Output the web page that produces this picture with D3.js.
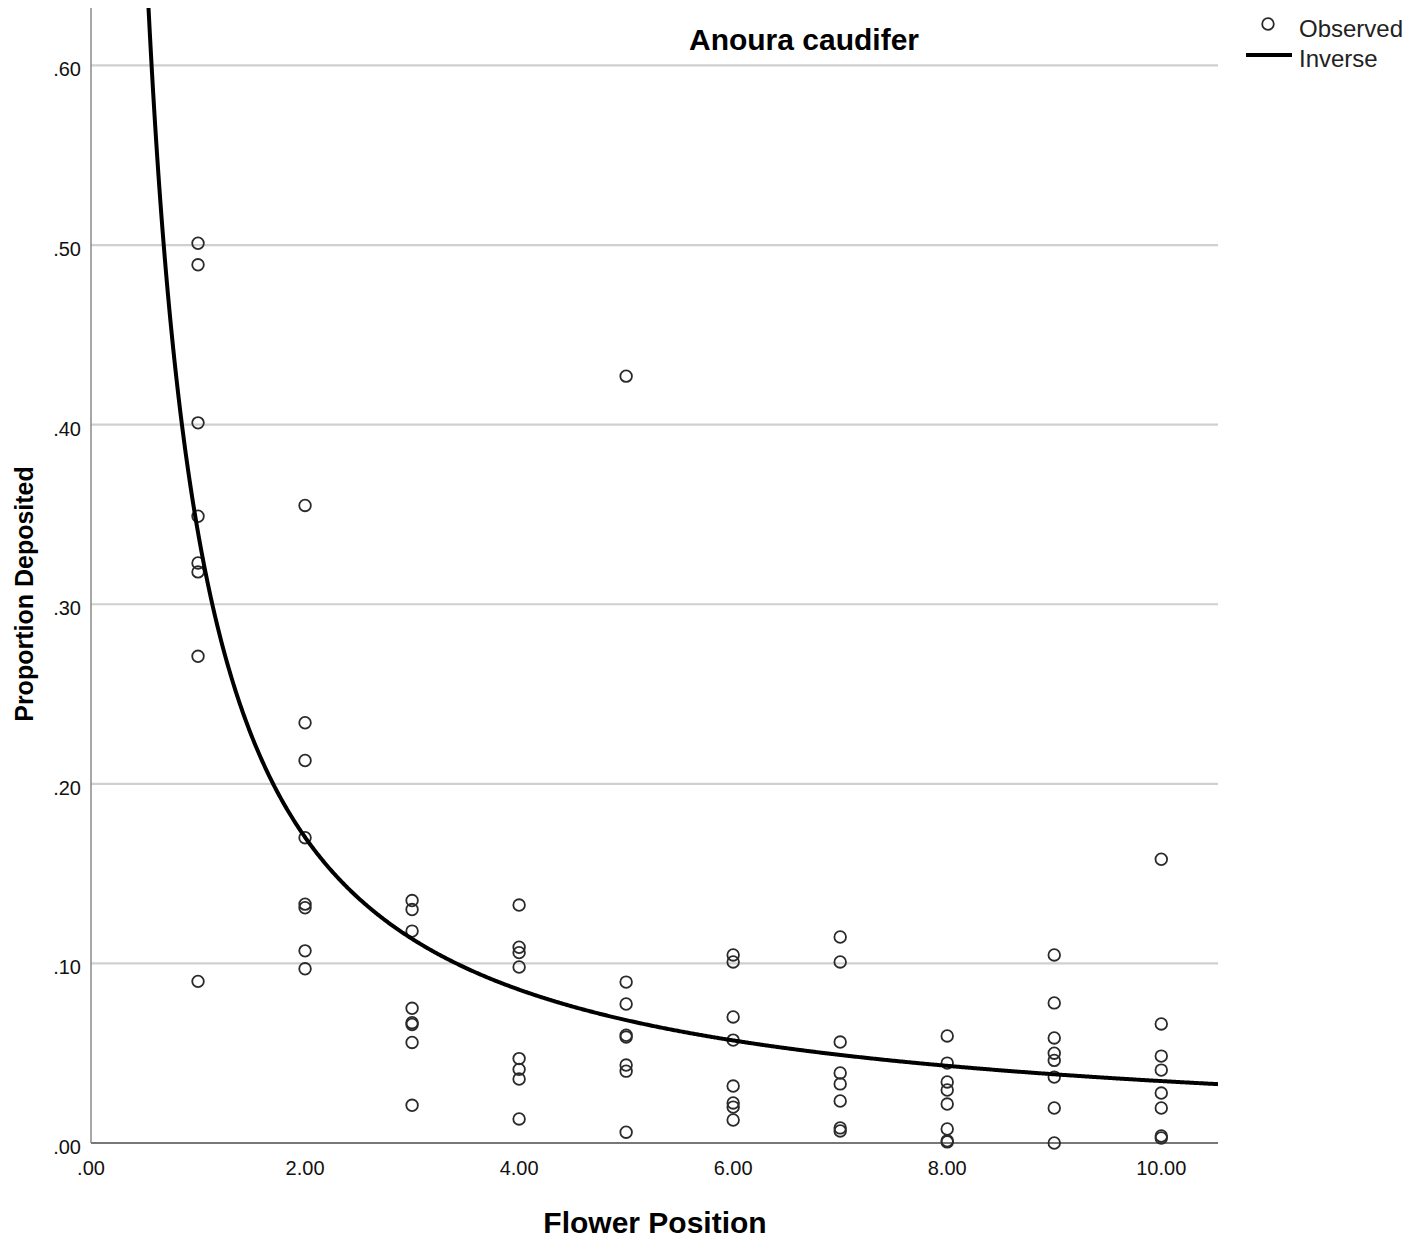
<!DOCTYPE html>
<html>
<head>
<meta charset="utf-8">
<script src="https://cdn.jsdelivr.net/npm/d3@7"></script>
<style>
body { margin: 0; background: #fff; }
text { font-family: Arial, "Liberation Sans", sans-serif; }
</style>
</head>
<body>
<svg id="chart"></svg>
<script>
var width = 1411,
    height = 1240;

// flower positions on the x axis
var flowerPositions = [1, 2, 3, 4, 5, 6, 7, 8, 9, 10];

// observed proportion deposited, one list per flower position
var observed = [
    [0.501, 0.489, 0.401, 0.349, 0.323, 0.318, 0.271, 0.090],
    [0.355, 0.234, 0.213, 0.170, 0.133, 0.131, 0.107, 0.097],
    [0.135, 0.130, 0.118, 0.075, 0.067, 0.066, 0.056, 0.021],
    [0.1325, 0.109, 0.106, 0.098, 0.047, 0.041, 0.0356, 0.0134],
    [0.427, 0.0896, 0.0774, 0.060, 0.059, 0.0434, 0.040, 0.006],
    [0.1047, 0.1008, 0.0702, 0.0573, 0.0317, 0.0223, 0.020, 0.0128],
    [0.1147, 0.1008, 0.0562, 0.039, 0.0329, 0.0234, 0.0084, 0.0067],
    [0.0596, 0.0445, 0.034, 0.0295, 0.0217, 0.0078, 0.0012, 0.0006],
    [0.1047, 0.078, 0.0585, 0.050, 0.046, 0.0367, 0.0195, 0.0],
    [0.158, 0.0663, 0.0484, 0.0406, 0.0278, 0.0195, 0.0039, 0.0028]
];

var yTicks = [0, 0.1, 0.2, 0.3, 0.4, 0.5, 0.6];
var xTicks = [0, 2, 4, 6, 8, 10];

var chartTitle = "Anoura caudifer",
    xTitle = "Flower Position",
    yTitle = "Proportion Deposited";

var legendLabels = ["Observed", "Inverse"];

var plotLeft = 91, plotRight = 1218, plotTop = 8, plotBottom = 1143;

var x = d3.scaleLinear().domain([0, 10.53]).range([plotLeft, plotRight]);
var y = d3.scaleLinear().domain([0, 0.632]).range([plotBottom, plotTop]);

// flatten to points
var points = [];
flowerPositions.forEach(function(p, i) {
    observed[i].forEach(function(v) {
        points.push({x: p, y: v});
    });
});

// inverse model y = b0 + b1 / x, least squares on the observed points
var meanU = d3.mean(points, function(d) { return 1 / d.x; }),
    meanY = d3.mean(points, function(d) { return d.y; });
var sxy = d3.sum(points, function(d) { return (1 / d.x - meanU) * (d.y - meanY); }),
    sxx = d3.sum(points, function(d) { return (1 / d.x - meanU) * (1 / d.x - meanU); });
var b1 = sxy / sxx,
    b0 = meanY - b1 * meanU;

var fmt = function(v) { return d3.format(".2f")(v).replace(/^0\./, "."); };

var svg = d3.select("#chart")
    .attr("width", width)
    .attr("height", height);

svg.append("defs").append("clipPath")
    .attr("id", "plotclip")
  .append("rect")
    .attr("x", plotLeft)
    .attr("y", plotTop)
    .attr("width", plotRight - plotLeft)
    .attr("height", plotBottom - plotTop);

// gridlines
svg.append("g").selectAll("line")
    .data(yTicks.filter(function(d) { return d > 0; }))
  .enter().append("line")
    .attr("x1", plotLeft)
    .attr("x2", plotRight)
    .attr("y1", function(d) { return y(d); })
    .attr("y2", function(d) { return y(d); })
    .attr("stroke", "#d0d0d0")
    .attr("stroke-width", 2.2);

// axis lines
svg.append("line")
    .attr("x1", plotLeft).attr("x2", plotLeft)
    .attr("y1", plotTop).attr("y2", plotBottom)
    .attr("stroke", "#8a8a8a")
    .attr("stroke-width", 1.5);

svg.append("line")
    .attr("x1", plotLeft).attr("x2", plotRight)
    .attr("y1", plotBottom).attr("y2", plotBottom)
    .attr("stroke", "#777")
    .attr("stroke-width", 2);

// tick labels
svg.append("g").selectAll("text")
    .data(yTicks)
  .enter().append("text")
    .attr("x", 81)
    .attr("y", function(d) { return y(d) + 11; })
    .attr("text-anchor", "end")
    .attr("font-size", 20)
    .attr("fill", "#111")
    .text(fmt);

svg.append("g").selectAll("text")
    .data(xTicks)
  .enter().append("text")
    .attr("x", function(d) { return x(d); })
    .attr("y", 1175)
    .attr("text-anchor", "middle")
    .attr("font-size", 20)
    .attr("fill", "#111")
    .text(fmt);

// observed points
svg.append("g").selectAll("circle")
    .data(points)
  .enter().append("circle")
    .attr("cx", function(d) { return x(d.x); })
    .attr("cy", function(d) { return y(d.y); })
    .attr("r", 5.8)
    .attr("fill", "none")
    .attr("stroke", "#2a2a2a")
    .attr("stroke-width", 1.8);

// fitted inverse curve
var curveXs = d3.range(0.45, 10.54, 0.01);
var line = d3.line()
    .x(function(d) { return x(d); })
    .y(function(d) { return y(b0 + b1 / d); });

svg.append("path")
    .datum(curveXs)
    .attr("clip-path", "url(#plotclip)")
    .attr("d", line)
    .attr("fill", "none")
    .attr("stroke", "#000")
    .attr("stroke-width", 4);

// titles
svg.append("text")
    .attr("x", 804)
    .attr("y", 50)
    .attr("text-anchor", "middle")
    .attr("font-size", 30)
    .attr("font-weight", "bold")
    .text(chartTitle);

svg.append("text")
    .attr("x", 655)
    .attr("y", 1233)
    .attr("text-anchor", "middle")
    .attr("font-size", 30)
    .attr("font-weight", "bold")
    .text(xTitle);

svg.append("text")
    .attr("transform", "translate(33,594) rotate(-90)")
    .attr("text-anchor", "middle")
    .attr("font-size", 25)
    .attr("font-weight", "bold")
    .text(yTitle);

// legend
var legend = svg.append("g");
legend.append("circle")
    .attr("cx", 1268)
    .attr("cy", 24)
    .attr("r", 5.8)
    .attr("fill", "none")
    .attr("stroke", "#2a2a2a")
    .attr("stroke-width", 1.8);
legend.append("line")
    .attr("x1", 1246).attr("x2", 1292)
    .attr("y1", 55).attr("y2", 55)
    .attr("stroke", "#000")
    .attr("stroke-width", 4);
legend.selectAll("text")
    .data(legendLabels)
  .enter().append("text")
    .attr("x", 1299)
    .attr("y", function(d, i) { return 37 + i * 30; })
    .attr("font-size", 24)
    .attr("fill", "#222")
    .text(function(d) { return d; });
</script>
</body>
</html>
